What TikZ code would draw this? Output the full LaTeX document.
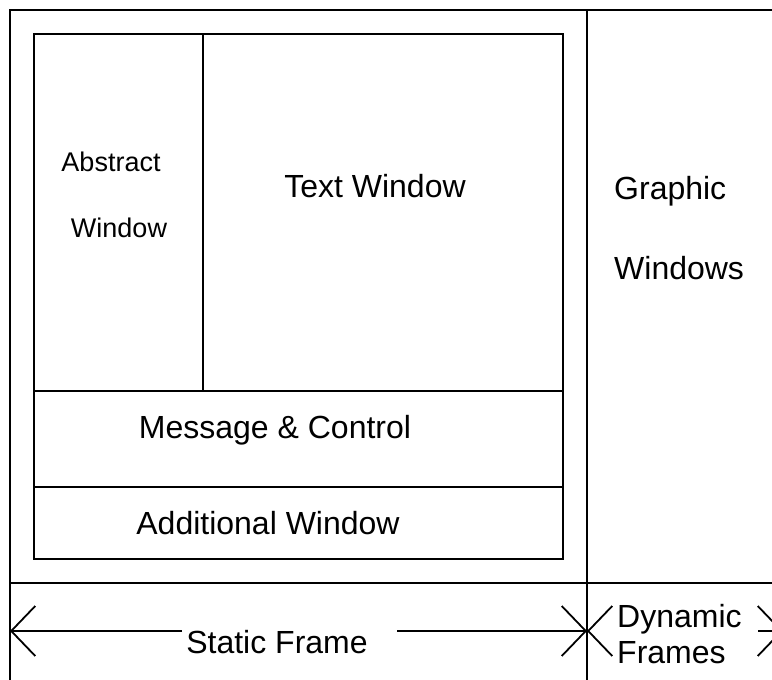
\documentclass[tikz,border=0pt]{standalone}
\usepackage{fontspec}
\setmainfont{Liberation Sans}
\usetikzlibrary{arrows.meta}
\begin{document}
\begin{tikzpicture}[x=1pt,y=-1pt,
  frameline/.style={line width=1.8pt},
  win/.style={draw,line width=1.8pt,anchor=north west,inner sep=0pt,outer sep=0pt},
  lbl/.style={inner sep=0pt,anchor=base,font=\fontsize{32}{36}\selectfont},
  slbl/.style={inner sep=0pt,anchor=base,font=\fontsize{27}{30}\selectfont},
  barb/.style={line width=1.8pt,-{Straight Barb[length=24pt,width=50pt,line width=1.8pt]}}]
\useasboundingbox (0,0) rectangle (772,680);
\clip (0,0) rectangle (772,680);
% outer frame lines
\coordinate (oBL) at (10,690);
\coordinate (oTL) at (10,10);
\coordinate (oTR) at (790,10);
\coordinate (vT) at (587,10);
\coordinate (vB) at (587,690);
\coordinate (hL) at (10,583);
\coordinate (hR) at (790,583);
\draw[frameline] (oBL) -- (oTL) -- (oTR);
\draw[frameline] (vT) -- (vB);
\draw[frameline] (hL) -- (hR);
% inner windows
\node[win,minimum width=169pt,minimum height=357pt] (abs) at (34,34) {};
\node[win,minimum width=360pt,minimum height=357pt] (txt) at (203,34) {};
\node[win,minimum width=529pt,minimum height=96pt] (msg) at (34,391) {};
\node[win,minimum width=529pt,minimum height=72pt] (add) at (34,487) {};
% labels
\node[slbl] (absA) at (111,171) {Abstract};
\node[slbl] (absW) at (119,237) {Window};
\node[lbl] (txtL) at (375,197) {Text Window};
\node[lbl,anchor=base west] (grA) at (614,199) {Graphic};
\node[lbl,anchor=base west] (grB) at (614,279) {Windows};
\node[lbl] (msgL) at (275,438) {Message \& Control};
\node[lbl] (addL) at (268,534) {Additional Window};
\node[lbl] (stat) at (277,653) {Static Frame};
\node[lbl,anchor=base west] (dynA) at (617,627) {Dynamic};
\node[lbl,anchor=base west] (dynB) at (617,663) {Frames};
% dimension arrows
\coordinate (sL) at (10,631);
\coordinate (sA) at (182,631);
\coordinate (sB) at (397,631);
\coordinate (sR) at (587,631);
\coordinate (dA) at (588,631);
\coordinate (dB) at (758,631);
\coordinate (dR) at (783,631);
\draw[barb] (sA) -- (sL);
\draw[barb] (sB) -- (sR);
\draw[barb] (dA) -- (sR);
\draw[barb] (dB) -- (dR);
\end{tikzpicture}
\end{document}
